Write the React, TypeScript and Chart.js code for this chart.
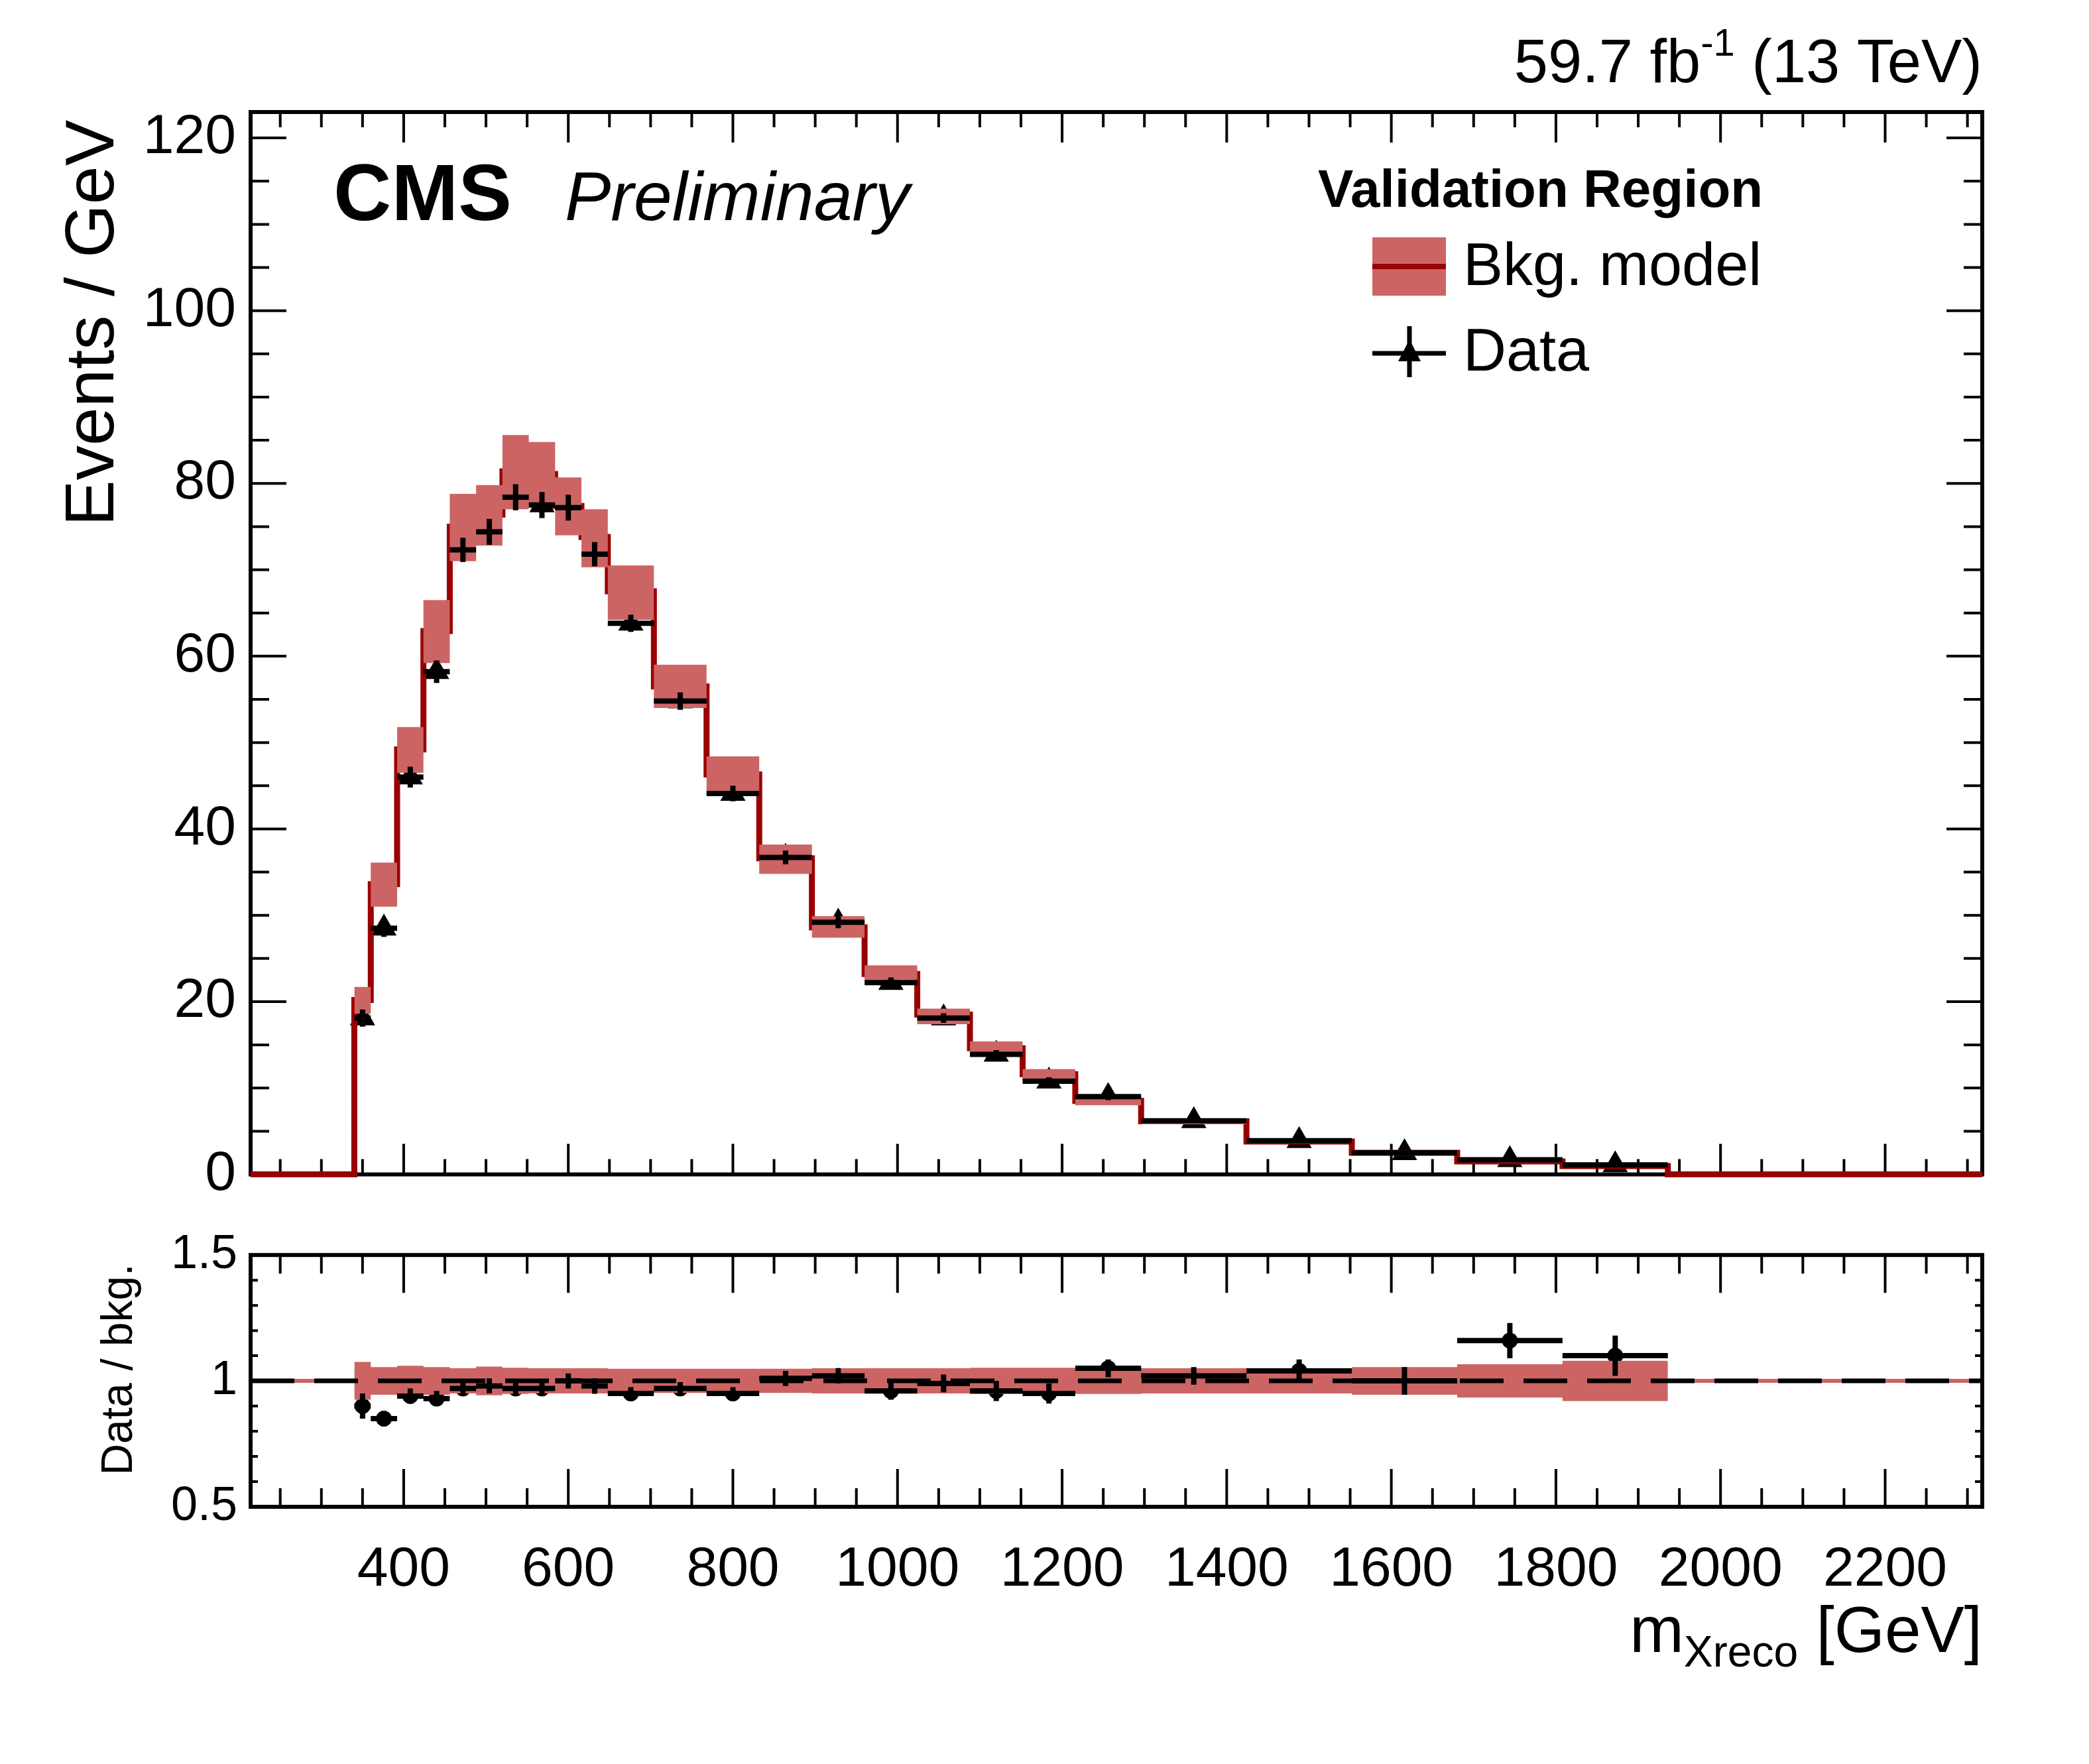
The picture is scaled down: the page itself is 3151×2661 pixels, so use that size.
import React, { useEffect, useRef } from "react";
import { Chart, registerables } from "chart.js";
Chart.register(...registerables);

const edges = [340,360,392,424,456,488,520,552,584,616,648,704,768,832,896,960,1024,1088,1152,1216,1296,1424,1552,1680,1808,1936];
const model = [20.2,33.6,49.2,62.9,75.0,76.4,81.4,81.1,77.4,73.8,67.5,56.5,46.3,36.6,28.6,23.2,18.5,14.6,11.6,8.5,6.15,3.8,2.5,1.5,0.97];
const modelUp = [21.7,36.1,51.8,66.5,78.8,79.8,85.6,84.8,80.7,77.0,70.5,59.0,48.4,38.2,29.9,24.2,19.2,15.4,12.2,9.0,6.5,4.0,2.65,1.6,1.05];
const modelDown = [18.6,31.0,46.5,59.2,71.0,72.8,77.0,77.5,74.0,70.3,64.2,54.0,44.0,34.8,27.4,22.5,17.4,13.9,10.9,8.0,5.8,3.6,2.35,1.4,0.9];
const dataVals = [18.1,28.5,46.0,58.2,72.3,74.4,78.4,77.5,77.2,71.8,63.8,54.8,44.1,36.7,29.2,22.2,18.1,13.9,10.8,9.0,6.2,3.9,2.5,1.7,1.1];
const dataErr = [1.0,1.0,1.2,1.3,1.4,1.5,1.5,1.5,1.5,1.4,1.0,1.0,0.9,0.8,0.7,0.6,0.55,0.5,0.45,0.4,0.25,0.2,0.15,0.12,0.1];
const ratioVals = [0.90,0.85,0.94,0.93,0.97,0.98,0.97,0.97,1.00,0.98,0.95,0.97,0.95,1.01,1.02,0.96,0.99,0.96,0.95,1.05,1.02,1.04,1.00,1.16,1.10];
const ratioErr = [0.05,0.03,0.03,0.03,0.03,0.03,0.03,0.03,0.03,0.03,0.025,0.025,0.025,0.03,0.03,0.035,0.035,0.04,0.04,0.035,0.035,0.045,0.055,0.07,0.08];
const ratioBand = [0.075,0.055,0.06,0.055,0.05,0.057,0.052,0.05,0.05,0.05,0.048,0.048,0.048,0.048,0.05,0.05,0.05,0.052,0.052,0.052,0.05,0.05,0.055,0.066,0.08];
const xTicks = [400,600,800,1000,1200,1400,1600,1800,2000,2200];
const yTicksMain = [0,20,40,60,80,100,120];
const yTicksRatio = [0.5,1,1.5];
const X_MIN = 214, X_MAX = 2318, Y_MAX = 123;

const FONT = "'Liberation Sans', Arial, sans-serif";
const BAND = "#cd6464";
const LINE = "#990000";

const stepPts = (vals: number[]) => {
  const p = vals.map((v, i) => ({ x: edges[i], y: v }));
  p.push({ x: edges[edges.length - 1], y: vals[vals.length - 1] });
  return p;
};
const centers = edges.slice(0, -1).map((e, i) => (e + edges[i + 1]) / 2);

function framePlugin(xMinorStep: number, yMajor: number, yMinor: number, yMin: number, yMax: number, tl: {xM: number, xm: number, yM: number, ym: number}) {
  return {
    id: "frame",
    beforeDatasetsDraw(chart: any) {
      const { ctx, chartArea: a, scales } = chart;
      const xs = scales.x, ys = scales.y;
      ctx.save();
      ctx.strokeStyle = "#000";
      ctx.lineWidth = 4;
      ctx.beginPath();
      for (let v = Math.ceil(X_MIN / xMinorStep) * xMinorStep; v <= X_MAX; v += xMinorStep) {
        const px = xs.getPixelForValue(v);
        const L = v % 200 === 0 ? tl.xM : tl.xm;
        ctx.moveTo(px, a.bottom); ctx.lineTo(px, a.bottom - L);
        ctx.moveTo(px, a.top); ctx.lineTo(px, a.top + L);
      }
      const n = Math.round((yMax - yMin) / yMinor);
      for (let k = 0; k <= n; k++) {
        const v = yMin + k * yMinor;
        const py = ys.getPixelForValue(v);
        const isM = Math.abs(v / yMajor - Math.round(v / yMajor)) < 1e-6;
        const L = isM ? tl.yM : tl.ym;
        ctx.moveTo(a.left, py); ctx.lineTo(a.left + L, py);
        ctx.moveTo(a.right, py); ctx.lineTo(a.right - L, py);
      }
      ctx.stroke();
      ctx.lineWidth = 6;
      ctx.strokeRect(a.left, a.top, a.right - a.left, a.bottom - a.top);
      ctx.restore();
    },
  };
}

function errPlugin(vals: number[], errs: number[], dashed: boolean) {
  return {
    id: "errbars",
    afterDatasetsDraw(chart: any) {
      const { ctx, scales } = chart;
      const xs = scales.x, ys = scales.y;
      ctx.save();
      ctx.strokeStyle = "#000";
      if (dashed) {
        ctx.lineWidth = 7;
        ctx.setLineDash([66, 30]);
        ctx.beginPath();
        ctx.moveTo(xs.getPixelForValue(X_MIN), ys.getPixelForValue(1));
        ctx.lineTo(xs.getPixelForValue(X_MAX), ys.getPixelForValue(1));
        ctx.stroke();
        ctx.setLineDash([]);
      }
      ctx.lineWidth = 8;
      ctx.beginPath();
      vals.forEach((v, i) => {
        const y = ys.getPixelForValue(v);
        ctx.moveTo(xs.getPixelForValue(edges[i]), y);
        ctx.lineTo(xs.getPixelForValue(edges[i + 1]), y);
        const c = xs.getPixelForValue(centers[i]);
        ctx.moveTo(c, ys.getPixelForValue(v + errs[i]));
        ctx.lineTo(c, ys.getPixelForValue(v - errs[i]));
      });
      ctx.stroke();
      ctx.restore();
    },
  };
}

export default function App() {
  const c1 = useRef<HTMLCanvasElement>(null);
  const c2 = useRef<HTMLCanvasElement>(null);
  const TOP2 = 1830;
  useEffect(() => {
    document.body.style.margin = "0";
    const textPlugin = {
      id: "texts",
      afterDraw(chart: any) {
        const ctx = chart.ctx;
        ctx.save();
        ctx.fillStyle = "#000";
        ctx.textAlign = "left";
        ctx.textBaseline = "alphabetic";
        const f1 = `92px ${FONT}`, fs = `58px ${FONT}`;
        ctx.font = f1; const wA = ctx.measureText("59.7 fb").width; const wC = ctx.measureText(" (13 TeV)").width;
        ctx.font = fs; const wB = ctx.measureText("-1").width;
        let x = 2990 - wA - wB - wC;
        ctx.font = f1; ctx.fillText("59.7 fb", x, 124); x += wA;
        ctx.font = fs; ctx.fillText("-1", x, 84); x += wB;
        ctx.font = f1; ctx.fillText(" (13 TeV)", x, 124);
        ctx.font = `bold 121px ${FONT}`; ctx.fillText("CMS", 503, 332);
        ctx.font = `italic 104px ${FONT}`; ctx.fillText("Preliminary", 852, 332);
        ctx.font = `bold 80px ${FONT}`; ctx.fillText("Validation Region", 1988, 312);
        ctx.fillStyle = BAND; ctx.fillRect(2070, 358, 111, 88);
        ctx.strokeStyle = LINE; ctx.lineWidth = 8;
        ctx.beginPath(); ctx.moveTo(2070, 402); ctx.lineTo(2181, 402); ctx.stroke();
        ctx.fillStyle = "#000";
        ctx.font = `90px ${FONT}`; ctx.fillText("Bkg. model", 2207, 430);
        ctx.strokeStyle = "#000"; ctx.lineWidth = 7;
        ctx.beginPath(); ctx.moveTo(2070, 533); ctx.lineTo(2181, 533);
        ctx.moveTo(2126, 492); ctx.lineTo(2126, 569); ctx.stroke();
        ctx.beginPath(); ctx.moveTo(2126, 512); ctx.lineTo(2143, 545); ctx.lineTo(2109, 545); ctx.closePath(); ctx.fill();
        ctx.fillText("Data", 2207, 559);
        ctx.translate(171, 181); ctx.rotate(-Math.PI / 2);
        ctx.textAlign = "right"; ctx.font = `104px ${FONT}`;
        ctx.fillText("Events / GeV", 0, 0);
        ctx.restore();
      },
    };
    const text2 = {
      id: "texts2",
      afterDraw(chart: any) {
        const ctx = chart.ctx;
        ctx.save(); ctx.fillStyle = "#000";
        const fb = `98px ${FONT}`, fsub = `66px ${FONT}`;
        ctx.font = fb; const wm = ctx.measureText("m").width; const wg = ctx.measureText(" [GeV]").width;
        ctx.font = fsub; const ws = ctx.measureText("Xreco").width;
        let x = 2990 - wm - ws - wg; const yb = 2492 - TOP2;
        ctx.font = fb; ctx.fillText("m", x, yb); x += wm;
        ctx.font = fsub; ctx.fillText("Xreco", x, yb + 22); x += ws;
        ctx.font = fb; ctx.fillText(" [GeV]", x, yb);
        ctx.translate(199, 2066 - TOP2); ctx.rotate(-Math.PI / 2);
        ctx.textAlign = "center"; ctx.font = `66px ${FONT}`;
        ctx.fillText("Data / bkg.", 0, 0);
        ctx.restore();
      },
    };
    const modelPts = [{ x: X_MIN, y: 0 }, ...model.map((v, i) => ({ x: edges[i], y: v })), { x: edges[edges.length - 1], y: 0 }, { x: X_MAX, y: 0 }];
    const ch1 = new Chart(c1.current!, {
      type: "line",
      data: {
        datasets: [
          { data: stepPts(modelUp), stepped: "before", borderWidth: 0, pointRadius: 0, backgroundColor: BAND, fill: "+1" } as any,
          { data: stepPts(modelDown), stepped: "before", borderWidth: 0, pointRadius: 0, fill: false } as any,
          { data: modelPts, stepped: "before", borderColor: LINE, borderWidth: 9, pointRadius: 0, fill: false, clip: 10 } as any,
          { data: dataVals.map((v, i) => ({ x: centers[i], y: v })), showLine: false, pointStyle: "triangle", pointRadius: 22, backgroundColor: "#000", borderColor: "#000", borderWidth: 0 } as any,
        ],
      },
      options: {
        animation: false, responsive: false, devicePixelRatio: 1,
        layout: { padding: { top: 169, right: 161, bottom: 27, left: 0 } },
        plugins: { legend: { display: false }, tooltip: { enabled: false } },
        scales: {
          x: { type: "linear", min: X_MIN, max: X_MAX, display: false, afterBuildTicks: (s: any) => { s.ticks = xTicks.map(v => ({ value: v })); } },
          y: {
            min: 0, max: Y_MAX,
            afterBuildTicks: (s: any) => { s.ticks = yTicksMain.map(v => ({ value: v })); },
            afterFit: (s: any) => { s.width = 378; },
            grid: { display: false, drawTicks: false }, border: { display: false },
            ticks: { padding: 22, color: "#000", font: { family: FONT, size: 84 } },
          },
        },
      } as any,
      plugins: [framePlugin(50, 20, 5, 0, 120, { xM: 46, xm: 23, yM: 54, ym: 28 }), errPlugin(dataVals, dataErr, false), textPlugin],
    });
    const ch2 = new Chart(c2.current!, {
      type: "line",
      data: {
        datasets: [
          { data: stepPts(ratioBand.map(r => 1 + r)), stepped: "before", borderWidth: 0, pointRadius: 0, backgroundColor: BAND, fill: "+1" } as any,
          { data: stepPts(ratioBand.map(r => 1 - r)), stepped: "before", borderWidth: 0, pointRadius: 0, fill: false } as any,
          { data: [{ x: X_MIN, y: 1 }, { x: X_MAX, y: 1 }], borderColor: BAND, borderWidth: 6, pointRadius: 0, fill: false } as any,
          { data: ratioVals.map((v, i) => ({ x: centers[i], y: v })), showLine: false, pointStyle: "circle", pointRadius: 12, backgroundColor: "#000", borderColor: "#000", borderWidth: 0 } as any,
        ],
      },
      options: {
        animation: false, responsive: false, devicePixelRatio: 1,
        layout: { padding: { top: 21, right: 161, bottom: 0, left: 0 } },
        plugins: { legend: { display: false }, tooltip: { enabled: false } },
        scales: {
          x: {
            type: "linear", min: X_MIN, max: X_MAX,
            afterBuildTicks: (s: any) => { s.ticks = xTicks.map(v => ({ value: v })); },
            afterFit: (s: any) => { s.height = 388; },
            grid: { display: false, drawTicks: false }, border: { display: false },
            ticks: { padding: 45, maxRotation: 0, autoSkip: false, color: "#000", font: { family: FONT, size: 84 }, callback: (v: any) => String(v) },
          },
          y: {
            min: 0.5, max: 1.5,
            afterBuildTicks: (s: any) => { s.ticks = yTicksRatio.map(v => ({ value: v })); },
            afterFit: (s: any) => { s.width = 378; },
            grid: { display: false, drawTicks: false }, border: { display: false },
            ticks: { padding: 20, color: "#000", font: { family: FONT, size: 72 }, callback: (v: any) => String(v) },
          },
        },
      } as any,
      plugins: [framePlugin(50, 0.5, 0.1, 0.5, 1.5, { xM: 57, xm: 28, yM: 22, ym: 11 }), errPlugin(ratioVals, ratioErr, true), text2],
    });
    return () => { ch1.destroy(); ch2.destroy(); };
  }, []);
  return (
    <div style={{ position: "relative", width: 3151, height: 2661, background: "#fff" }}>
      <canvas ref={c1} width={3151} height={1844} style={{ position: "absolute", left: 0, top: 0, width: 3151, height: 1844 }} />
      <canvas ref={c2} width={3151} height={831} style={{ position: "absolute", left: 0, top: TOP2, width: 3151, height: 831 }} />
    </div>
  );
}
